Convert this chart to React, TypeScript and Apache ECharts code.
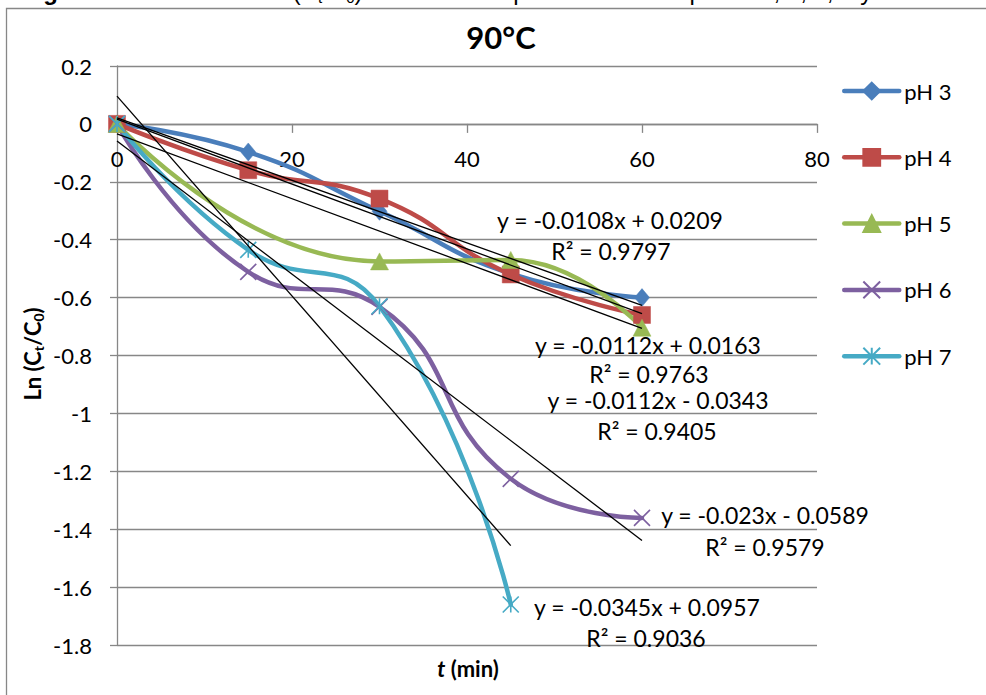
import { useEffect, useRef } from "react";
import * as echarts from "echarts";

// Sampling times (min)
const times = [0, 15, 30, 45, 60];
const seriesNames = ["pH 3", "pH 4", "pH 5", "pH 6", "pH 7"];

// Ln(Ct/C0) per pH; null = no sample at that time
const ph3 = [0, -0.097, -0.302, -0.517, -0.6];
const ph4 = [0, -0.16, -0.258, -0.52, -0.66];
const ph5 = [0, null, -0.475, -0.47, -0.704];
const ph6 = [0, -0.511, -0.632, -1.226, -1.361];
const ph7 = [0, -0.435, -0.63, -1.66, null];
const seriesValues = [ph3, ph4, ph5, ph6, ph7];

// Linear fits (y = slope·x + intercept) and their R²
const trendSlopes = [-0.0108, -0.0112, -0.0112, -0.023, -0.0345];
const trendIntercepts = [0.0209, 0.0163, -0.0343, -0.0589, 0.0957];
const trendR2 = [0.9797, 0.9763, 0.9405, 0.9579, 0.9036];

// Axis scales
const xMin = 0;
const xMax = 80;
const xStep = 20;
const yMin = -1.8;
const yMax = 0.2;
const yStep = 0.2;

// Styling
const colors = ["#4A7EBB", "#BE4B48", "#98B954", "#7D60A0", "#46AAC5"];
const symbols = [
  "diamond",
  "rect",
  "triangle",
  "path://M0 0L10 10M10 0L0 10",
  "path://M0 0L10 10M10 0L0 10M5 0L5 10",
];
const symbolSizes: any[] = [[15, 18], 17, [18, 17], 16, 16];
const strokedMarker = [false, false, false, true, true];

// Equation / R² label centres (px)
const eqPos = [
  [610, 220],
  [648, 345],
  [658, 400],
  [765, 515],
  [647, 607],
];
const r2Pos = [
  [611, 251],
  [649, 374],
  [657, 431],
  [765, 547],
  [646, 638],
];

const FONT = "Lato";
const GRID_COLOR = "#878787";
const GRID = { left: 117, top: 66, right: 169, bottom: 50 };
const CHART_H = 695;

function fmtEq(slope: number, intercept: number) {
  const sign = intercept < 0 ? "-" : "+";
  return `y = ${slope}x ${sign} ${Math.abs(intercept)}`;
}

export default function App() {
  const ref = useRef<HTMLDivElement>(null);

  useEffect(() => {
    if (!ref.current) return;
    const chart = echarts.init(ref.current, undefined, { renderer: "svg" });

    // vertical pixel position of y = 0, so the x axis (with its labels) sits there
    const plotH = CHART_H - GRID.top - GRID.bottom;
    const zeroFromBottom = ((0 - yMin) / (yMax - yMin)) * plotH;

    const dataSeries = seriesValues.map((vals, i) => {
      const pts = times
        .map((t, k) => [t, vals[k]])
        .filter((p) => p[1] !== null);
      return {
        type: "line",
        name: seriesNames[i],
        data: pts,
        smooth: 0.5,
        symbol: symbols[i],
        symbolSize: symbolSizes[i],
        showSymbol: true,
        z: 2,
        lineStyle: { color: colors[i], width: 4.5, cap: "round", join: "round" },
        itemStyle: strokedMarker[i]
          ? { color: "rgba(0,0,0,0)", borderColor: colors[i], borderWidth: 1.6 }
          : { color: colors[i], borderColor: colors[i], borderWidth: 0.5 },
        emphasis: { disabled: true },
        silent: true,
      };
    });

    const trendSeries = seriesValues.map((vals, i) => {
      const xs = times.filter((_, k) => vals[k] !== null);
      const x0 = Math.min(...xs);
      const x1 = Math.max(...xs);
      return {
        type: "line",
        name: "Lineal (" + seriesNames[i] + ")",
        data: [
          [x0, trendSlopes[i] * x0 + trendIntercepts[i]],
          [x1, trendSlopes[i] * x1 + trendIntercepts[i]],
        ],
        symbol: "none",
        z: 3,
        lineStyle: { color: "#000", width: 1.3 },
        emphasis: { disabled: true },
        silent: true,
      };
    });

    const labelStyle = {
      fontFamily: FONT,
      fontSize: 23,
      lineHeight: 22,
      fill: "#000",
      align: "center",
      verticalAlign: "middle",
    };
    const eqTexts: any[] = [];
    for (let i = 0; i < seriesNames.length; i++) {
      eqTexts.push({
        type: "text",
        x: eqPos[i][0],
        y: eqPos[i][1],
        z: 10,
        style: { ...labelStyle, text: fmtEq(trendSlopes[i], trendIntercepts[i]) },
      });
      eqTexts.push({
        type: "text",
        x: r2Pos[i][0],
        y: r2Pos[i][1],
        z: 10,
        style: { ...labelStyle, text: `R² = ${trendR2[i]}` },
      });
    }

    chart.setOption({
      animation: false,
      backgroundColor: "#fff",
      grid: { ...GRID, containLabel: false },
      legend: {
        data: seriesNames,
        orient: "vertical",
        left: 842,
        top: 80,
        padding: 0,
        itemWidth: 55,
        itemHeight: 21,
        itemGap: 44.3,
        selectedMode: false,
        textStyle: { fontFamily: FONT, fontSize: 22, color: "#000" },
        lineStyle: { width: 4.5 },
      },
      xAxis: {
        type: "value",
        min: xMin,
        max: xMax,
        interval: xStep,
        position: "bottom",
        offset: -zeroFromBottom,
        axisLine: { onZero: false, lineStyle: { color: GRID_COLOR, width: 1.3 } },
        axisTick: { show: true, length: 9, lineStyle: { color: GRID_COLOR, width: 1.3 } },
        axisLabel: { fontFamily: FONT, fontSize: 22, color: "#000", margin: 24 },
        splitLine: { show: false },
      },
      yAxis: {
        type: "value",
        min: yMin,
        max: yMax,
        interval: yStep,
        axisLine: { show: true, lineStyle: { color: GRID_COLOR, width: 1.3 } },
        axisTick: { show: true, length: 7, lineStyle: { color: GRID_COLOR, width: 1.3 } },
        axisLabel: { fontFamily: FONT, fontSize: 22, color: "#000", margin: 25 },
        splitLine: { show: true, lineStyle: { color: GRID_COLOR, width: 1.3 } },
      },
      series: [...dataSeries, ...trendSeries],
      graphic: [
        {
          type: "rect",
          silent: true,
          z: -10,
          shape: { x: 6.5, y: 8.5, width: 1000, height: 700 },
          style: { fill: "none", stroke: GRID_COLOR, lineWidth: 1.3 },
        },
        {
          type: "text",
          x: 22,
          y: 4.5,
          style: {
            text:
              "{b|Figura 5.:}{r| Gráfica del Ln (C}{s|t}{r|/C}{s|0}{r|) contra el tiempo del cambio a pH de 3, 4, 5, 6 y 7 a 90°C}",
            verticalAlign: "bottom",
            align: "left",
            rich: {
              b: { fontFamily: "Liberation Sans", fontWeight: "bold", fontSize: 24, lineHeight: 26, fill: "#000" },
              r: { fontFamily: "Liberation Sans", fontSize: 24, lineHeight: 26, fill: "#000" },
              s: { fontFamily: "Liberation Sans", fontSize: 15, lineHeight: 15, verticalAlign: "bottom", fill: "#000" },
            },
          },
        },
        {
          type: "text",
          x: 501,
          y: 37,
          style: {
            text: "90°C",
            fontFamily: FONT,
            fontWeight: "bold",
            fontSize: 31,
            fill: "#000",
            align: "center",
            verticalAlign: "middle",
          },
        },
        {
          type: "text",
          x: 468,
          y: 668,
          style: {
            text: "{i|t}{b| (min)}",
            align: "center",
            verticalAlign: "middle",
            rich: {
              i: { fontFamily: FONT, fontWeight: "bold", fontStyle: "italic", fontSize: 22, fill: "#000" },
              b: { fontFamily: FONT, fontWeight: "bold", fontSize: 22, fill: "#000" },
            },
          },
        },
        {
          type: "text",
          x: 32,
          y: 354,
          rotation: Math.PI / 2,
          style: {
            text: "{b|Ln (C}{s|t}{b|/C}{s|0}{b|)}",
            align: "center",
            verticalAlign: "middle",
            rich: {
              b: { fontFamily: FONT, fontWeight: "bold", fontSize: 22, lineHeight: 26, fill: "#000" },
              s: { fontFamily: FONT, fontWeight: "bold", fontSize: 14, lineHeight: 14, verticalAlign: "bottom", fill: "#000" },
            },
          },
        },
        ...eqTexts,
      ],
    });

    return () => chart.dispose();
  }, []);

  return (
    <div
      ref={ref}
      style={{ position: "absolute", left: 0, top: 0, width: 986, height: 695 }}
    />
  );
}
